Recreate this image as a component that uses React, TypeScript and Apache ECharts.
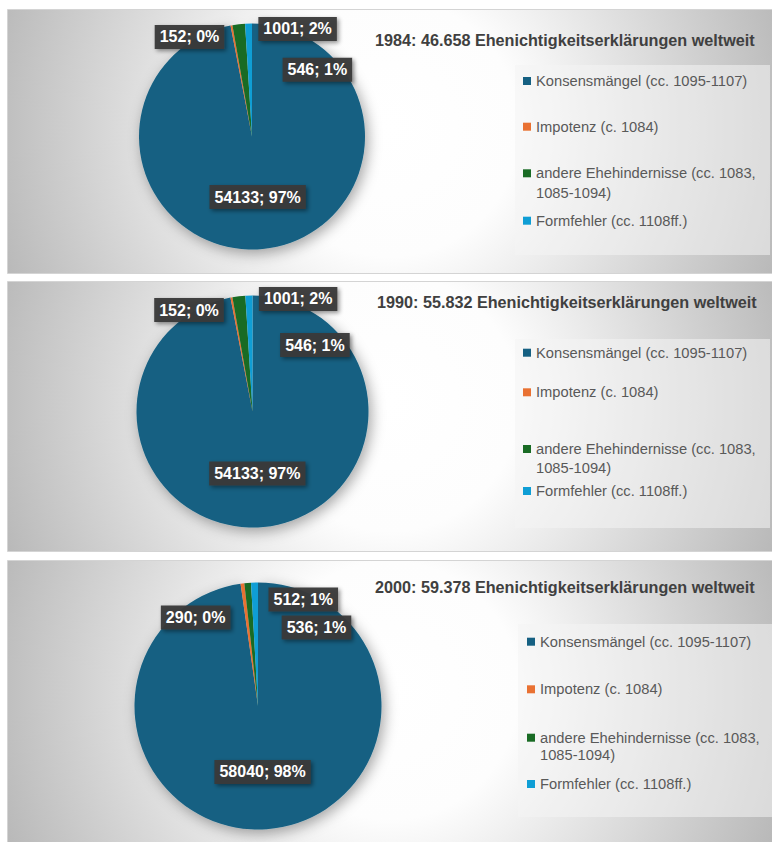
import React, { useEffect, useRef } from 'react';
import * as echarts from 'echarts';

// ---------- data ----------
const categories = [
  'Konsensmängel (cc. 1095-1107)',
  'Impotenz (c. 1084)',
  'andere Ehehindernisse (cc. 1083, 1085-1094)',
  'Formfehler (cc. 1108ff.)',
];
const sliceColors = ['#156082', '#E97132', '#196B24', '#0F9ED5'];
const titles = [
  '1984: 46.658 Ehenichtigkeitserklärungen weltweit',
  '1990: 55.832 Ehenichtigkeitserklärungen weltweit',
  '2000: 59.378 Ehenichtigkeitserklärungen weltweit',
];
const values1984 = [54133, 152, 1001, 546];
const values1990 = [54133, 152, 1001, 546];
const values2000 = [58040, 290, 512, 536];
const seriesValues = [values1984, values1990, values2000];

// ---------- layout (positions / sizes only) ----------
const FONT = "'Liberation Sans', Arial, sans-serif";
const LEGEND_FS = 14.7;
const LEGEND_COLOR = '#595959';
const panels = [
  {
    y: 9, h: 264, center: [252, 136.5], r: 113,
    titleX: 375, titleTop: 32,
    legendX: 523, legendCenters: [81, 126.7, 173.3, 220.7], twoLineGap: 20,
    box: [515, 65, 255, 190],
    offsets: [[0, 1.3], [-51.7, -41], [52.6, -48.5], [67.2, -7.2]],
  },
  {
    y: 281, h: 270, center: [252.5, 411.5], r: 116,
    titleX: 377, titleTop: 294,
    legendX: 523, legendCenters: [352.7, 392.3, 449, 491], twoLineGap: 19,
    box: [515, 339, 255, 189],
    offsets: [[-1, 1.3], [-52.4, -41.5], [52.8, -52], [64.3, -5.5]],
  },
  {
    y: 560, h: 290, center: [258, 706], r: 123.5,
    titleX: 375, titleTop: 579,
    legendX: 527, legendCenters: [641.7, 689.3, 737.7, 784], twoLineGap: 17.5,
    box: [518, 624, 255, 193],
    offsets: [[0, 1.4], [-54.2, -24.2], [50.7, -42], [60.3, -13.8]],
  },
];

function legendItems(p: typeof panels[number]) {
  const [c1, c2, c3, c4] = p.legendCenters;
  const L = p.twoLineGap;
  const h3 = 3 * L; // blank spacer line + two text lines
  const h2 = 2 * (c3 - c2) - h3;
  const h1 = 2 * (c2 - c1) - h2;
  const h4 = 2 * (c4 - c3) - h3;
  const pad = (h: number) => Math.max(0, (h - 20) / 2);
  const bg = 'rgba(0,0,0,0)';
  const items = [
    { name: categories[0], textStyle: { lineHeight: 20, padding: [pad(h1), 0, pad(h1), 0], backgroundColor: bg } },
    { name: categories[1], textStyle: { lineHeight: 20, padding: [pad(h2), 0, pad(h2), 0], backgroundColor: bg } },
    { name: categories[2] },
    { name: categories[3], textStyle: { lineHeight: 20, padding: [pad(h4), 0, pad(h4), 0], backgroundColor: bg } },
  ];
  return { items, top: c1 - h1 / 2 };
}

export default function App() {
  const ref = useRef<HTMLDivElement>(null);

  useEffect(() => {
    document.body.style.margin = '0';
    document.body.style.background = '#ffffff';
    if (!ref.current) return;
    const chart = echarts.init(ref.current, null, { renderer: 'svg' });

    const graphic: any[] = [];
    panels.forEach((p) => {
      graphic.push({
        type: 'rect',
        z: -10,
        silent: true,
        shape: { x: 7.5, y: p.y + 0.5, width: 770, height: p.h },
        style: {
          fill: {
            type: 'radial',
            x: 390,
            y: p.y + p.h * 0.45,
            r: 430,
            global: true,
            colorStops: [
              { offset: 0, color: '#ffffff' },
              { offset: 0.3, color: '#fdfdfd' },
              { offset: 1, color: '#b4b4b4' },
            ],
          },
          stroke: '#d4d4d4',
          lineWidth: 1,
        },
      });
      graphic.push({
        type: 'rect',
        z: -9,
        silent: true,
        shape: { x: p.box[0], y: p.box[1], width: p.box[2], height: p.box[3] },
        style: { fill: 'rgba(244,244,244,0.55)' },
      });
    });

    const legends = panels.map((p) => {
      const { items, top } = legendItems(p);
      const L = p.twoLineGap;
      const tok = { fontFamily: FONT, fontSize: LEGEND_FS, color: LEGEND_COLOR, lineHeight: L, height: L };
      return {
        orient: 'vertical',
        left: p.legendX,
        top,
        padding: 0,
        itemGap: 0,
        itemWidth: 8,
        itemHeight: 8,
        icon: 'rect',
        selectedMode: false,
        data: items,
        formatter: (name: string) => {
          if (name.indexOf(', 1085') < 0) return name;
          const [a, b] = name.split(', ');
          return `{sp| }\n{t|${a},}\n{t|${b}}`;
        },
        textStyle: {
          fontFamily: FONT,
          fontSize: LEGEND_FS,
          color: LEGEND_COLOR,
          rich: { sp: { ...tok }, t: { ...tok } },
        },
      };
    });

    const titleOpts = panels.map((p, i) => ({
      text: titles[i],
      left: p.titleX,
      top: p.titleTop,
      padding: 0,
      textStyle: { fontFamily: FONT, fontSize: 16.2, fontWeight: 'bold', color: '#404040' },
    }));

    const series = panels.map((p, i) => ({
      type: 'pie',
      center: p.center,
      radius: p.r,
      startAngle: 90,
      clockwise: true,
      avoidLabelOverlap: false,
      data: seriesValues[i].map((v, k) => ({
        name: categories[k],
        value: v,
        itemStyle:
          k === 0
            ? { color: sliceColors[k], shadowBlur: 14, shadowColor: 'rgba(0,0,0,0.35)', shadowOffsetX: 3, shadowOffsetY: 4 }
            : { color: sliceColors[k] },
      })),
      itemStyle: { borderWidth: 0 },
      label: {
        show: true,
        position: 'inside',
        formatter: (d: any) => `${d.value}; ${Math.round(d.percent)}%`,
        fontFamily: FONT,
        fontSize: 16,
        fontWeight: 'bold',
        color: '#ffffff',
        backgroundColor: 'rgba(56,56,56,0.95)',
        padding: [4, 5],
        lineHeight: 16,
        shadowColor: 'rgba(0,0,0,0.45)',
        shadowBlur: 4,
        shadowOffsetX: 2,
        shadowOffsetY: 2,
      },
      labelLine: { show: false },
      labelLayout: (params: any) => {
        const o = p.offsets[params.dataIndex] || [0, 0];
        return { dx: o[0], dy: o[1] };
      },
      emphasis: { disabled: true },
    }));

    chart.setOption({
      animation: false,
      backgroundColor: '#ffffff',
      graphic,
      title: titleOpts,
      legend: legends,
      series,
    });

    return () => chart.dispose();
  }, []);

  return <div ref={ref} style={{ width: 772, height: 842 }} />;
}
